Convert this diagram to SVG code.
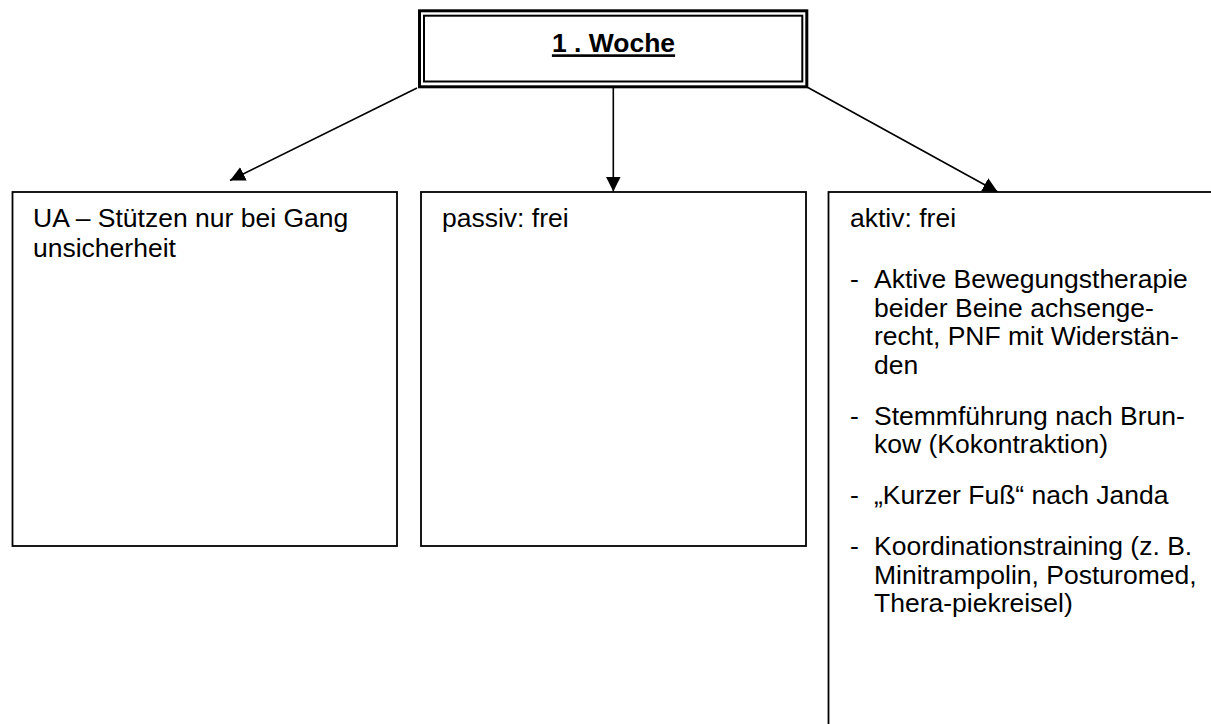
<svg xmlns="http://www.w3.org/2000/svg" width="1211" height="724" viewBox="0 0 1211 724">
<style>
.box{fill:#fff;stroke:#000;stroke-width:1.8}
.t{font-family:"Liberation Sans",Arial,sans-serif;font-size:26.5px;fill:#000}
.title{font-family:"Liberation Sans",Arial,sans-serif;font-size:26.5px;font-weight:bold;fill:#000;text-decoration:underline}
.conn{stroke:#000;stroke-width:1.6;fill:none;marker-end:url(#ah)}
</style>
<defs>
<marker id="ah" markerUnits="userSpaceOnUse" markerWidth="16" markerHeight="16" refX="15" refY="7.5" orient="auto">
<path d="M0,0 L15,7.5 L0,15 z" fill="#000"/>
</marker>
</defs>
<rect width="1211" height="724" fill="#fff"/>
<g id="connectors">
<line class="conn" x1="417" y1="88" x2="230" y2="180.5"/>
<line class="conn" x1="613.3" y1="88" x2="613.3" y2="191.5"/>
<line class="conn" x1="807" y1="87" x2="997.8" y2="192"/>
</g>
<g id="node-woche">
<rect x="419.5" y="10.8" width="387.3" height="76" fill="#fff" stroke="#000" stroke-width="3"/>
<rect x="424" y="15.7" width="378.3" height="65.8" fill="none" stroke="#000" stroke-width="2"/>
<text class="title" x="613.5" y="52.3" text-anchor="middle">1 . Woche</text>
</g>
<g id="node-ua">
<rect class="box" x="12.5" y="192" width="384.5" height="354"/>
<text class="t" x="33" y="227">UA – Stützen nur bei Gang</text>
<text class="t" x="33" y="257">unsicherheit</text>
</g>
<g id="node-passiv">
<rect class="box" x="421" y="192" width="385" height="354"/>
<text class="t" x="442" y="227">passiv: frei</text>
</g>
<g id="node-aktiv">
<rect class="box" x="828.5" y="192" width="400" height="560"/>
<text class="t" x="850" y="227">aktiv: frei</text>
<text class="t" x="850" y="288">-</text>
<text class="t" x="874" y="288">Aktive Bewegungstherapie</text>
<text class="t" x="874" y="316.5">beider Beine achsenge-</text>
<text class="t" x="874" y="345">recht, PNF mit Widerstän-</text>
<text class="t" x="874" y="373.5">den</text>
<text class="t" x="850" y="424.5">-</text>
<text class="t" x="874" y="424.5">Stemmführung nach Brun-</text>
<text class="t" x="874" y="453">kow (Kokontraktion)</text>
<text class="t" x="850" y="504">-</text>
<text class="t" x="874" y="504">„Kurzer Fuß“ nach Janda</text>
<text class="t" x="850" y="555">-</text>
<text class="t" x="874" y="555">Koordinationstraining (z. B.</text>
<text class="t" x="874" y="583.5">Minitrampolin, Posturomed,</text>
<text class="t" x="874" y="612">Thera-piekreisel)</text>
</g>
</svg>
